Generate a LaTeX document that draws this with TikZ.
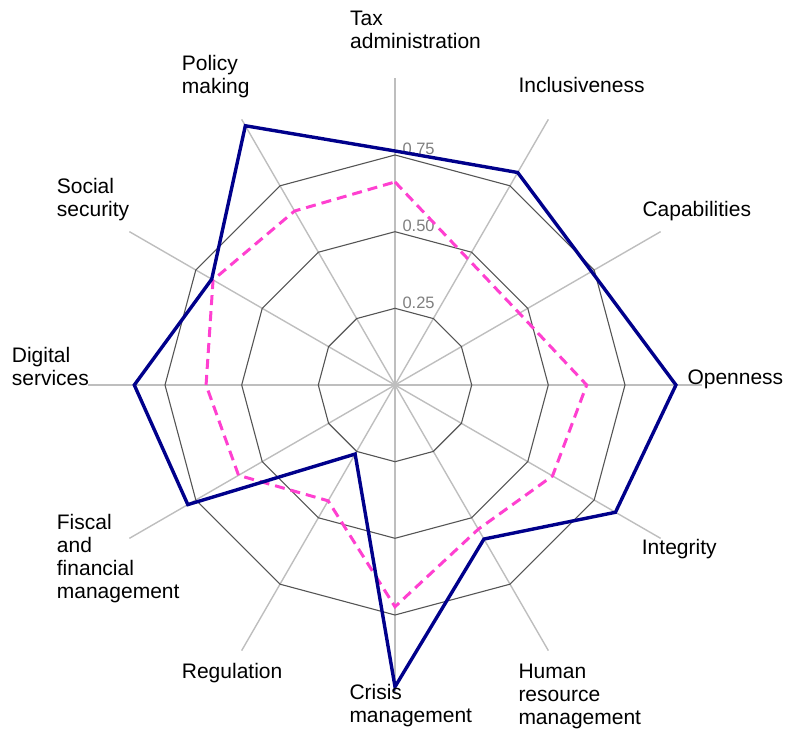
\documentclass[tikz,border=0pt]{standalone}
\usepackage{fontspec}
\setmainfont{Liberation Sans}
\definecolor{axisgray}{RGB}{190,190,190}
\definecolor{ringgray}{RGB}{85,85,85}
\definecolor{navyline}{RGB}{0,0,139}
\definecolor{pinkline}{RGB}{255,64,208}
\definecolor{ticklab}{RGB}{127,127,127}
\begin{document}
\begin{tikzpicture}[x=1pt,y=1pt,
  axisline/.style={draw=axisgray, line width=1.4pt},
  ring/.style={draw=ringgray, line width=1.1pt},
  seriesA/.style={draw=navyline, line width=3.4pt},
  seriesB/.style={draw=pinkline, line width=3pt, dash pattern=on 10pt off 6pt},
  lab/.style={anchor=base west, inner sep=0pt, font=\fontsize{21}{23}\selectfont},
  tick/.style={anchor=base west, inner sep=0pt, text=ticklab, font=\fontsize{16.5}{18}\selectfont}]
\useasboundingbox (0,0) rectangle (787,731);
\def\rmax{306.7}
\begin{scope}[shift={(395,346)}]
  \coordinate (O) at (0,0);
  % axes
  \foreach \i in {1,...,12}
    \coordinate (e\i) at ({90-30*(\i-1)}:\rmax);
  \foreach \i in {1,...,12}
    \draw[axisline] (O) -- (e\i);
  % rings
  \foreach \r in {76.7,153.3,230}
    \draw[ring] (0:\r) \foreach \a in {30,60,...,330}{ -- (\a:\r)} -- cycle;
  % tick labels
  \node[tick] (t25) at (7.3,76.7) {0.25};
  \node[tick] (t50) at (7.3,153.3) {0.50};
  \node[tick] (t75) at (7.3,230) {0.75};
  % data
  \foreach \v [count=\i] in {0.662,0.475,0.468,0.625,0.593,0.543,0.723,0.436,0.589,0.616,0.685,0.655}
    \coordinate (p\i) at ({90-30*(\i-1)}:{\v*\rmax});
  \foreach \v [count=\i] in {0.763,0.80,0.74,0.916,0.83,0.58,0.984,0.26,0.78,0.85,0.69,0.976}
    \coordinate (b\i) at ({90-30*(\i-1)}:{\v*\rmax});
  \draw[seriesB] (p1) -- (p2) -- (p3) -- (p4) -- (p5) -- (p6) -- (p7) -- (p8) -- (p9) -- (p10) -- (p11) -- (p12) -- cycle;
  \draw[seriesA] (b1) -- (b2) -- (b3) -- (b4) -- (b5) -- (b6) -- (b7) -- (b8) -- (b9) -- (b10) -- (b11) -- (b12) -- cycle;
\end{scope}
% axis labels
\node[lab] (l1) at (350,705.3) {\vtop{\hbox{Tax}\hbox{administration}}};
\node[lab] (l2) at (518.3,638.3) {Inclusiveness};
\node[lab] (l3) at (642.3,514.3) {Capabilities};
\node[lab] (l4) at (687.3,346) {Openness};
\node[lab] (l5) at (641.7,176) {Integrity};
\node[lab] (l6) at (518.3,52.7) {\vtop{\hbox{Human}\hbox{resource}\hbox{management}}};
\node[lab] (l7) at (349.3,31) {\vtop{\hbox{Crisis}\hbox{management}}};
\node[lab] (l8) at (181.7,52.5) {Regulation};
\node[lab] (l9) at (56.7,201) {\vtop{\hbox{Fiscal}\hbox{and}\hbox{financial}\hbox{management}}};
\node[lab] (l10) at (11.7,368.7) {\vtop{\hbox{Digital}\hbox{services}}};
\node[lab] (l11) at (56.7,537.4) {\vtop{\hbox{Social}\hbox{security}}};
\node[lab] (l12) at (181.7,660.3) {\vtop{\hbox{Policy}\hbox{making}}};
\end{tikzpicture}
\end{document}
